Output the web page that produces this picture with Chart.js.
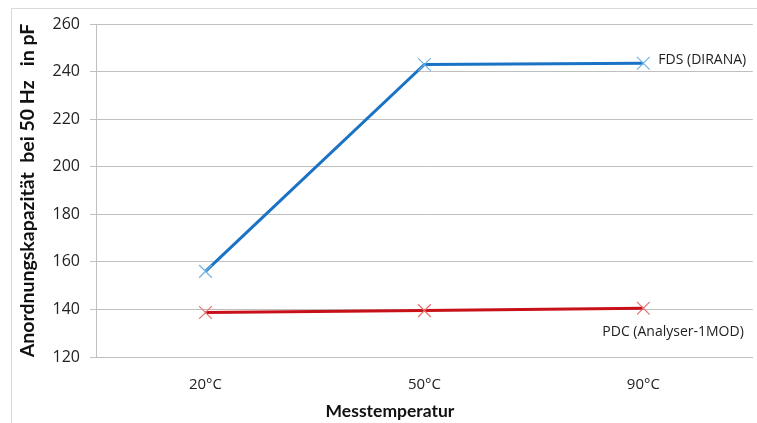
<!DOCTYPE html>
<html>
<head>
<meta charset="utf-8">
<script src="https://cdn.jsdelivr.net/npm/chart.js@4/dist/chart.umd.min.js"></script>
<style>
  html, body { margin: 0; padding: 0; background: #fff; overflow: hidden; }
  #wrap { position: relative; width: 757px; height: 423px; overflow: hidden; }
  #frame { position: absolute; left: 11px; top: 8px; right: 0; bottom: 0; border-left: 1px solid #d9d9d9; border-top: 1px solid #d9d9d9; }
  /* the plot area continues a little past the visible right edge */
  #inner { position: absolute; left: 0; top: 0; width: 763px; height: 423px; }
</style>
</head>
<body>
<div id="wrap">
  <div id="frame"></div>
  <div id="inner"><canvas id="c"></canvas></div>
</div>
<script>
// Measurement temperatures and capacitance values (pF at 50 Hz)
const categories = ['20°C', '50°C', '90°C'];
const fdsValues = [156, 243, 243.5];
const pdcValues = [138.7, 139.5, 140.5];
const yMin = 120, yMax = 260, yStep = 20;
const seriesNames = ['FDS (DIRANA)', 'PDC (Analyser-1MOD)'];
const xTitle = 'Messtemperatur';
const yTitle = 'Anordnungskapazität  bei 50 Hz   in pF';

const FONT = "'Open Sans', 'Liberation Sans', sans-serif";
const TITLE_FONT = "Lato, 'Open Sans', sans-serif";
const GRID = '#bfbfbf';

// Series name labels next to the last point of each line, plus the x axis title
const seriesLabels = {
  id: 'seriesLabels',
  afterDatasetsDraw(chart) {
    const ctx = chart.ctx;
    ctx.save();
    ctx.font = '14px ' + FONT;
    ctx.fillStyle = '#222';
    ctx.textBaseline = 'middle';
    ctx.textAlign = 'left';
    const fdsPt = chart.getDatasetMeta(0).data[2];
    ctx.fillText(seriesNames[0], fdsPt.x + 15, fdsPt.y - 3);
    const pdcPt = chart.getDatasetMeta(1).data[2];
    ctx.fillText(seriesNames[1], pdcPt.x - 41, pdcPt.y + 24);
    ctx.font = 'bold 17.5px ' + TITLE_FONT;
    ctx.textAlign = 'center';
    ctx.fillStyle = '#111';
    ctx.fillText(xTitle, 390, 411);
    ctx.restore();
  }
};

new Chart(document.getElementById('c'), {
  type: 'line',
  data: {
    labels: categories,
    datasets: [
      {
        label: seriesNames[0],
        data: fdsValues,
        borderColor: '#1a73c4',
        borderWidth: 3,
        pointStyle: 'crossRot',
        pointRadius: 9,
        pointBorderWidth: 1.2,
        pointBorderColor: '#6fb3e6',
        pointBackgroundColor: '#6fb3e6',
        tension: 0
      },
      {
        label: seriesNames[1],
        data: pdcValues,
        borderColor: '#c81018',
        borderWidth: 3,
        pointStyle: 'crossRot',
        pointRadius: 9,
        pointBorderWidth: 1.2,
        pointBorderColor: '#e77272',
        pointBackgroundColor: '#e77272',
        tension: 0
      }
    ]
  },
  options: {
    responsive: true,
    maintainAspectRatio: false,
    devicePixelRatio: 1,
    animation: false,
    layout: { padding: { left: 0, top: 24, right: 0, bottom: 0 } },
    plugins: { legend: { display: false }, tooltip: { enabled: false } },
    scales: {
      x: {
        offset: true,
        grid: { display: false },
        border: { display: true, color: GRID, width: 1 },
        ticks: { color: '#222', font: { family: FONT, size: 15 }, padding: 11, maxRotation: 0 },
        afterFit(scale) { scale.height = 66; }
      },
      y: {
        min: yMin,
        max: yMax,
        grid: { color: GRID, lineWidth: 1, tickLength: 6, drawTicks: true },
        border: { display: true, color: GRID, width: 1 },
        ticks: { stepSize: yStep, color: '#222', font: { family: FONT, size: 16 }, padding: 10 },
        title: {
          display: true,
          text: yTitle,
          color: '#111',
          font: { family: TITLE_FONT, size: 19.5, weight: 'bold' },
          padding: { top: 16, bottom: 0 }
        },
        afterFit(scale) { scale.width = 96; }
      }
    }
  },
  plugins: [seriesLabels]
});
</script>
</body>
</html>
